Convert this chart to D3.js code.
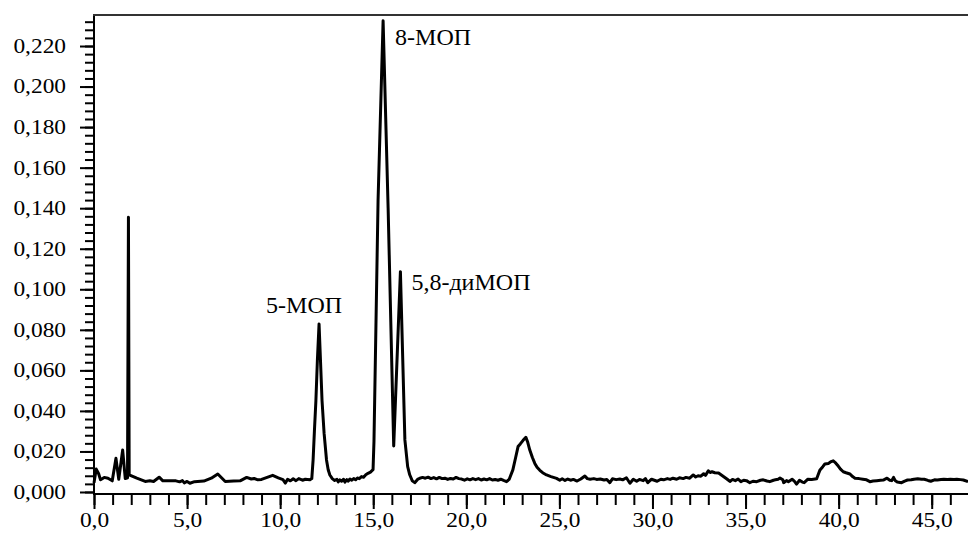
<!DOCTYPE html>
<html>
<head>
<meta charset="utf-8">
<script src="https://cdn.jsdelivr.net/npm/d3@7"></script>
<style>
  html, body { margin: 0; padding: 0; background: #fff; }
  svg { display: block; }
  text { font-family: "Liberation Serif", "Times New Roman", serif; fill: #000; }
</style>
</head>
<body>
<svg id="chart" width="968" height="544"></svg>
<script>
// ---- data ----
const timeMin = [
  0.00,0.12,0.25,0.35,0.55,0.75,0.98,1.18,1.33,1.54,1.68,1.80,1.85,1.89,
  2.30,2.75,3.00,3.20,3.50,3.70,4.10,4.40,4.60,4.75,4.85,5.00,5.15,5.40,5.90,6.30,6.65,7.05,7.50,7.85,
  8.20,8.45,8.60,8.80,9.00,9.30,9.60,9.90,10.15,10.28,10.40,10.55,10.70,10.85,11.00,11.20,11.35,11.60,
  11.70,11.77,11.84,11.92,12.00,12.09,12.17,12.25,12.36,12.49,12.58,12.67,12.80,12.93,
  13.05,13.12,13.20,13.30,13.40,13.48,13.58,13.66,13.75,13.85,13.95,14.05,14.15,14.25,14.37,14.48,14.60,14.72,14.85,14.99,
  15.04,15.26,15.53,15.80,16.10,16.46,16.70,16.85,16.96,17.10,17.23,17.38,17.50,
  17.65,17.80,17.95,18.10,18.25,18.40,18.55,18.70,18.85,19.00,19.15,19.30,19.45,19.60,19.75,19.90,
  20.05,20.20,20.35,20.50,20.65,20.80,20.95,21.10,21.25,21.40,21.55,21.70,21.85,22.00,22.16,
  22.30,22.50,22.65,22.78,22.90,23.05,23.20,23.30,23.41,23.55,23.68,23.80,23.95,24.10,24.31,24.55,24.85,25.02,
  25.15,25.30,25.45,25.60,25.75,25.95,26.15,26.37,26.50,26.65,26.85,27.00,27.20,27.40,27.55,27.71,27.85,28.05,28.25,28.40,
  28.60,28.79,28.97,29.15,29.30,29.50,29.62,29.75,29.95,30.10,30.25,30.45,30.60,30.80,30.95,31.10,31.30,31.45,31.65,31.80,32.00,
  32.19,32.32,32.45,32.60,32.75,32.85,33.00,33.10,33.20,33.35,33.55,33.70,33.85,34.00,34.16,34.30,34.45,34.60,34.75,34.90,35.05,35.23,
  35.40,35.60,35.80,35.95,36.15,36.30,36.50,36.60,36.75,36.85,37.00,37.05,37.20,37.30,37.50,37.62,37.74,37.90,38.05,38.15,38.35,38.55,38.82,
  38.92,39.00,39.15,39.26,39.45,39.60,39.71,39.85,39.98,40.10,40.25,40.40,40.61,40.75,40.88,41.10,41.30,41.50,41.68,
  41.85,42.05,42.25,42.40,42.60,42.75,42.85,42.95,43.05,43.15,43.38,43.55,43.70,43.90,44.05,44.25,44.45,44.60,44.80,44.95,
  45.15,45.30,45.50,45.65,45.85,46.00,46.20,46.35,46.55,46.70,46.95
];
const absorbance = [
  .0045,.0113,.0090,.0060,.0072,.0068,.0055,.0166,.0063,.0207,.0066,.0070,.1355,.0085,
  .0068,.0052,.0055,.0052,.0073,.0055,.0056,.0055,.0050,.0056,.0045,.0052,.0043,.0051,.0054,.0068,.0089,.0052,.0054,.0055,
  .0072,.0064,.0067,.0060,.0062,.0072,.0082,.0070,.0061,.0044,.0063,.0055,.0065,.0056,.0066,.0058,.0063,.0060,
  .0066,.0158,.0300,.0450,.0650,.0829,.0640,.0450,.0290,.0158,.0110,.0084,.0066,.0057,
  .0062,.0050,.0060,.0053,.0063,.0049,.0061,.0054,.0064,.0058,.0066,.0060,.0069,.0066,.0076,.0073,.0085,.0092,.0098,.0110,
  .0250,.1440,.2325,.1400,.0227,.1087,.0257,.0125,.0085,.0055,.0046,.0062,.0068,
  .0072,.0068,.0073,.0066,.0071,.0065,.0072,.0066,.0068,.0062,.0067,.0064,.0072,.0066,.0064,.0058,
  .0065,.0060,.0066,.0061,.0066,.0059,.0064,.0060,.0066,.0059,.0062,.0058,.0063,.0057,.0051,
  .0062,.0109,.0170,.0224,.0237,.0255,.0270,.0245,.0207,.0170,.0141,.0122,.0107,.0095,.0084,.0076,.0067,.0058,
  .0065,.0057,.0064,.0058,.0062,.0054,.0064,.0079,.0066,.0063,.0066,.0062,.0064,.0059,.0062,.0046,.0065,.0061,.0064,.0060,
  .0070,.0043,.0063,.0053,.0062,.0056,.0066,.0046,.0063,.0058,.0053,.0063,.0060,.0066,.0062,.0068,.0063,.0070,.0066,.0072,.0068,
  .0084,.0074,.0080,.0078,.0090,.0082,.0105,.0096,.0100,.0095,.0094,.0084,.0074,.0064,.0052,.0062,.0056,.0064,.0051,.0058,.0056,.0046,
  .0053,.0051,.0058,.0060,.0054,.0051,.0058,.0060,.0063,.0069,.0060,.0046,.0056,.0051,.0063,.0054,.0039,.0058,.0049,.0046,.0063,.0062,.0065,
  .0090,.0109,.0125,.0138,.0141,.0150,.0154,.0142,.0128,.0113,.0100,.0095,.0089,.0076,.0068,.0066,.0063,.0060,.0051,
  .0054,.0056,.0058,.0059,.0068,.0058,.0056,.0072,.0055,.0049,.0046,.0054,.0059,.0060,.0063,.0065,.0063,.0063,.0057,.0053,
  .0060,.0059,.0062,.0063,.0062,.0063,.0062,.0063,.0061,.0059,.0051
];
const peakNames = ["5-МОП", "8-МОП", "5,8-диМОП"];
const peakTimes = [12.09, 15.53, 16.46];
const peakValues = [0.0829, 0.2325, 0.1087];

const xMajorTicks = [0, 5, 10, 15, 20, 25, 30, 35, 40, 45];
const xTickLabels = ["0,0","5,0","10,0","15,0","20,0","25,0","30,0","35,0","40,0","45,0"];
const yMajorTicks = [0, 0.02, 0.04, 0.06, 0.08, 0.10, 0.12, 0.14, 0.16, 0.18, 0.20, 0.22];
const yTickLabels = ["0,000","0,020","0,040","0,060","0,080","0,100","0,120","0,140","0,160","0,180","0,200","0,220"];

(function draw() {
  const svg = d3.select("#chart");
  const mL = 94, mR = 968, mT = 15, mB = 494;

  const x = d3.scaleLinear().domain([0, 46.95]).range([mL, mR]);
  const y = d3.scaleLinear().domain([-0.00099, 0.2353]).range([mB, mT]);

  const xMinor = d3.range(0, 47, 1);
  const yMinor = d3.range(0, 0.2353, 0.004);
  const stretch = 1.17;

  // minor ticks
  svg.append("g").attr("transform", `translate(${mL},0)`)
    .call(d3.axisLeft(y).tickValues(yMinor).tickSize(9).tickFormat(""))
    .call(g => g.select(".domain").remove())
    .call(g => g.selectAll("line").attr("stroke", "#000").attr("stroke-width", 2));

  svg.append("g").attr("transform", `translate(0,${mB})`)
    .call(d3.axisBottom(x).tickValues(xMinor).tickSize(11).tickFormat(""))
    .call(g => g.select(".domain").remove())
    .call(g => g.selectAll("line").attr("stroke", "#000").attr("stroke-width", 2));

  // major ticks + labels
  const yAxis = svg.append("g").attr("transform", `translate(${mL},0)`)
    .call(d3.axisLeft(y).tickValues(yMajorTicks).tickSize(14).tickPadding(10)
          .tickFormat((d, i) => yTickLabels[i]));
  yAxis.select(".domain").remove();
  yAxis.selectAll("line").attr("stroke", "#000").attr("stroke-width", 2);
  yAxis.selectAll("text")
    .attr("font-family", "Liberation Serif, serif")
    .attr("font-size", 20)
    .attr("x", -28 / stretch)
    .attr("transform", `scale(${stretch},1)`);

  const xAxis = svg.append("g").attr("transform", `translate(0,${mB})`)
    .call(d3.axisBottom(x).tickValues(xMajorTicks).tickSize(15).tickPadding(10)
          .tickFormat((d, i) => xTickLabels[i]));
  xAxis.select(".domain").remove();
  xAxis.selectAll("line").attr("stroke", "#000").attr("stroke-width", 2);
  xAxis.selectAll("text")
    .attr("font-family", "Liberation Serif, serif")
    .attr("font-size", 20)
    .attr("y", 19)
    .attr("transform", `scale(${stretch},1)`);

  // axis lines
  svg.append("line").attr("x1", mL).attr("x2", mL).attr("y1", mT).attr("y2", mB)
    .attr("stroke", "#000").attr("stroke-width", 2);
  svg.append("line").attr("x1", mL - 1).attr("x2", mR).attr("y1", mB).attr("y2", mB)
    .attr("stroke", "#000").attr("stroke-width", 2);
  svg.append("line").attr("x1", mL - 1).attr("x2", mR).attr("y1", mT).attr("y2", mT)
    .attr("stroke", "#333").attr("stroke-width", 2);

  // chromatogram
  const pts = timeMin.map((t, i) => [t, absorbance[i]]);
  svg.append("path")
    .datum(pts)
    .attr("fill", "none")
    .attr("stroke", "#000")
    .attr("stroke-width", 3)
    .attr("stroke-linejoin", "round")
    .attr("d", d3.line().x(d => x(d[0])).y(d => y(d[1])));

  // peak labels
  const labelOffsets = [[-15, -11, "middle"], [12, 24, "start"], [11, 18, "start"]];
  peakNames.forEach((name, i) => {
    const o = labelOffsets[i];
    svg.append("text")
      .attr("x", x(peakTimes[i]) + o[0])
      .attr("y", y(peakValues[i]) + o[1])
      .attr("text-anchor", o[2])
      .attr("font-size", 24)
      .text(name);
  });
})();
</script>
</body>
</html>
